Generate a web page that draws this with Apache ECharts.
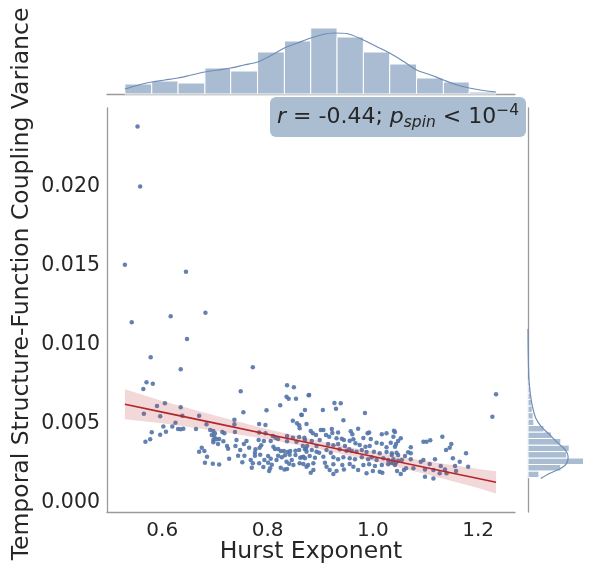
<!DOCTYPE html>
<html><head><meta charset="utf-8">
<script src="https://cdn.jsdelivr.net/npm/echarts@6/dist/echarts.min.js"></script>
<style>html,body{margin:0;padding:0;background:#fff}#c{width:597px;height:569px}</style>
</head><body><div id="c"></div>
<script>
// ---------- data ----------
const xTicks = [0.6, 0.8, 1.0, 1.2];
const yTicks = [0, 0.005, 0.010, 0.015, 0.020];

// scatter: [Hurst exponent, coupling variance]
const points = [
[0.553,0.02383],[0.558,0.02002],[0.529,0.01506],[0.645,0.01463],[0.542,0.01142],[0.616,0.01181],
[0.682,0.01203],[0.647,0.01037],[0.578,0.00921],[0.635,0.00845],[0.772,0.00857],[0.564,0.0072],
[0.570,0.00762],[0.582,0.00753],[1.234,0.00686],[1.227,0.00544],
[0.590,0.00612],[0.605,0.00629],[0.635,0.00604],[0.565,0.00563],[0.596,0.00547],[0.638,0.0055],
[0.670,0.0055],[0.625,0.00506],[0.619,0.00481],[0.602,0.00481],[0.630,0.00466],[0.635,0.00464],
[0.640,0.00468],[0.684,0.00496],[0.664,0.00466],[0.580,0.00445],[0.607,0.00449],[0.596,0.0043],
[0.577,0.00401],[0.568,0.00385],[0.691,0.0046],[0.697,0.00453],[0.700,0.00439],[0.694,0.00428],
[0.699,0.00417],[0.697,0.00396],[0.703,0.00401],[0.706,0.00371],[0.697,0.00382],[0.675,0.00347],
[0.680,0.00327],[0.670,0.00322],[0.685,0.0029],[0.681,0.00252],[0.696,0.00246],[0.708,0.00241],
[0.749,0.00705],[0.837,0.00743],[0.850,0.0073],[0.836,0.00671],[0.840,0.00658],[0.854,0.00658],
[0.878,0.0068],[0.824,0.00616],[0.864,0.00557],[0.754,0.00572],[0.798,0.00585],[0.848,0.00519],
[0.856,0.00502],[0.860,0.00489],[0.874,0.00498],[0.737,0.00525],[0.737,0.00496],[0.784,0.00498],
[0.796,0.00491],[0.861,0.0047],[0.738,0.00447],[0.714,0.00447],[0.718,0.00439],[0.784,0.00443],
[0.796,0.00439],[0.810,0.00422],[0.815,0.00411],[0.820,0.00403],[0.837,0.00422],[0.848,0.00411],
[0.860,0.00415],[0.870,0.00411],[0.708,0.00403],[0.716,0.00388],[0.741,0.00396],[0.760,0.0039],
[0.783,0.00396],[0.793,0.0039],[0.806,0.0039],[0.837,0.00388],[0.855,0.00385],[0.723,0.00358],
[0.725,0.00341],[0.739,0.00358],[0.755,0.00371],[0.765,0.00347],[0.777,0.00337],[0.785,0.00347],
[0.788,0.00363],[0.811,0.00354],[0.814,0.00339],[0.820,0.00339],[0.825,0.00327],[0.831,0.00327],
[0.838,0.0032],[0.843,0.00327],[0.853,0.00328],[0.860,0.00333],[0.873,0.00341],[0.776,0.00316],
[0.748,0.00333],[0.744,0.00297],[0.756,0.00297],[0.776,0.00297],[0.786,0.00303],[0.801,0.00295],
[0.820,0.00297],[0.827,0.00287],[0.833,0.00299],[0.842,0.00303],[0.853,0.00301],[0.868,0.0029],
[0.727,0.00278],[0.768,0.00269],[0.794,0.00269],[0.806,0.00278],[0.817,0.00269],[0.836,0.00259],
[0.846,0.00269],[0.862,0.00284],[0.752,0.00255],[0.772,0.00249],[0.784,0.00249],[0.801,0.00252],
[0.808,0.0024],[0.841,0.00246],[0.849,0.00238],[0.861,0.00249],[0.770,0.00221],[0.792,0.00225],
[0.805,0.00217],[0.825,0.00221],[0.832,0.0021],[0.837,0.00212],[0.874,0.00227],[0.803,0.002],
[0.879,0.00682],[0.927,0.00631],[0.939,0.00629],[0.871,0.00586],[0.905,0.00586],[0.930,0.00595],
[0.865,0.00555],[0.985,0.00567],[0.944,0.00521],[0.972,0.00468],[0.882,0.00453],[0.886,0.00439],
[0.901,0.0046],[0.906,0.0046],[0.922,0.00466],[0.923,0.00441],[0.934,0.00443],[0.958,0.00451],
[0.961,0.00432],[0.990,0.00439],[0.993,0.00443],[1.017,0.00432],[1.026,0.00439],[1.042,0.00447],
[0.892,0.00428],[0.911,0.00428],[0.917,0.00417],[0.931,0.00407],[0.941,0.00404],[0.945,0.00396],
[0.982,0.00409],[0.996,0.00403],[0.871,0.00396],[0.884,0.0039],[0.899,0.00396],[0.956,0.00392],
[0.963,0.00401],[0.967,0.00375],[1.007,0.00379],[1.017,0.00373],[1.034,0.00379],[1.048,0.0039],
[0.867,0.00358],[0.875,0.00358],[0.893,0.00358],[0.915,0.00371],[0.925,0.00363],[0.934,0.00371],
[0.947,0.00358],[0.975,0.00365],[0.986,0.00354],[0.994,0.00358],[1.026,0.0035],[1.042,0.00354],
[0.871,0.00337],[0.874,0.00322],[0.884,0.00333],[0.893,0.00322],[0.898,0.00316],[0.912,0.00333],
[0.920,0.00316],[0.937,0.00337],[0.950,0.00328],[0.955,0.00337],[0.960,0.00327],[0.969,0.00322],
[0.979,0.00333],[0.988,0.0032],[1.002,0.00322],[1.013,0.00312],[1.026,0.0032],[1.036,0.00312],
[1.045,0.00316],[0.865,0.00287],[0.871,0.0028],[0.880,0.00295],[0.890,0.00284],[0.906,0.0029],
[0.925,0.00287],[0.934,0.00274],[0.944,0.00287],[0.956,0.0028],[0.966,0.00274],[0.979,0.00287],
[0.991,0.00274],[0.998,0.00287],[1.007,0.00269],[1.020,0.0028],[1.029,0.00269],[1.039,0.00274],
[1.048,0.00265],[0.868,0.00244],[0.877,0.00238],[0.887,0.00249],[0.909,0.00252],[0.912,0.00227],
[0.925,0.00242],[0.942,0.00238],[0.956,0.00244],[0.963,0.00227],[0.982,0.00238],[0.993,0.00242],
[1.004,0.00231],[1.017,0.00238],[1.029,0.00242],[1.042,0.00238],[0.887,0.00206],[0.882,0.00189],
[0.918,0.00206],[0.931,0.002],[0.945,0.0021],[0.972,0.00206],[1.000,0.002],[1.013,0.00195],
[1.018,0.00189],[0.925,0.00181],[0.988,0.00185],
[1.040,0.00455],[1.039,0.00417],[1.044,0.00371],[1.053,0.00407],[1.096,0.00385],[1.102,0.00385],
[1.109,0.00394],[1.132,0.00417],[1.072,0.0035],[1.067,0.00318],[1.072,0.00312],[1.149,0.00371],
[1.146,0.00347],[1.139,0.00333],[1.177,0.00312],[1.036,0.00301],[1.048,0.00301],[1.061,0.00295],
[1.152,0.0028],[1.118,0.00274],[1.096,0.00269],[1.165,0.00259],[1.072,0.00274],[1.055,0.00269],
[1.034,0.00252],[1.039,0.00249],[1.044,0.00252],[1.091,0.00259],[1.108,0.00244],[1.129,0.00231],
[1.156,0.00231],[1.181,0.00227],[1.063,0.00217],[1.059,0.00206],[1.077,0.00217],[1.099,0.0021],
[1.115,0.00206],[1.137,0.0021],[1.158,0.002],[1.046,0.002],[1.053,0.00181],[1.099,0.00164],
[1.115,0.00153],[1.127,0.00185],[1.140,0.00185]
];

// regression line and confidence band
const regX   = [0.529, 0.6, 0.7, 0.8, 0.9, 1.0, 1.1, 1.2, 1.234];
const regY   = [0.00623, 0.00573, 0.00503, 0.00433, 0.00363, 0.00292, 0.00222, 0.00152, 0.00128];
const ciHigh = [0.00718, 0.00643, 0.00551, 0.00465, 0.00388, 0.00321, 0.00263, 0.00212, 0.00198];
const ciLow  = [0.00528, 0.00503, 0.00455, 0.00401, 0.00338, 0.00263, 0.00181, 0.00092, 0.00058];

// top marginal histogram (Hurst exponent)
const topBinEdges = [0.529, 0.580, 0.630, 0.681, 0.730, 0.781, 0.832, 0.882, 0.932, 0.982, 1.032, 1.083, 1.134, 1.183, 1.234];
const topCounts   = [10, 13, 11, 26, 23, 42, 53, 66, 57, 42, 30, 16, 12, 2];
const topKdeX = [0.529,0.555,0.580,0.605,0.630,0.655,0.681,0.705,0.730,0.755,0.781,0.805,0.832,0.857,0.882,0.905,0.925,0.950,0.982,1.005,1.032,1.060,1.083,1.110,1.134,1.160,1.183,1.210,1.234];
const topKdeY = [5,9,12,14,16,19,22,24,26,29,32,38,46,51,56,59.5,61,60.5,54,48,41,32,24,19,14,9,6,3.5,2];

// right marginal histogram (coupling variance)
const rightBinEdges = [0.00158,0.00200,0.00241,0.00282,0.00323,0.00364,0.00406,0.00447,0.00488,0.00529,0.00570,0.00612,0.00653,0.00694,0.00735,0.00776];
const rightCounts   = [13, 39, 66, 46, 49, 39, 28, 19, 7, 6, 5, 4, 3, 2.5, 2];
const rightKdeY = [0.00153,0.00185,0.00217,0.00248,0.0029,0.00333,0.00375,0.00428,0.0048,0.00534,0.00607,0.00692,0.00776,0.0086,0.0098,0.0110];
const rightKdeX = [15.3,26,39.3,46,47.7,44.3,36,26,16,9.3,5.3,2.7,1.2,0.6,0.2,0];

// ---------- chart ----------
const FONT = 'DejaVu Sans';
const TXT = '#262626';
const SPINE = '#9a9a9a';
const BAR = '#aabcd1';
const KDE = '#6f8db5';
const XMIN = 0.495, XMAX = 1.27, YMIN = -0.0006, YMAX = 0.025;

const chart = echarts.init(document.getElementById('c'), null, {renderer: 'canvas'});

const option = {
  animation: false,
  backgroundColor: '#fff',
  grid: [
    {left: 107, top: 108, width: 408, height: 404},
    {left: 107, top: 12, width: 408, height: 82},
    {left: 528, top: 108, width: 82, height: 404}
  ],
  xAxis: [
    {gridIndex: 0, type: 'value', min: XMIN, max: XMAX,
     axisLine: {show: true, onZero: false, lineStyle: {color: SPINE, width: 1.3}},
     axisTick: {show: false}, splitLine: {show: false},
     axisLabel: {customValues: xTicks, formatter: v => v.toFixed(1), color: TXT, fontSize: 20, fontFamily: FONT, margin: 9}},
    {gridIndex: 1, type: 'value', min: XMIN, max: XMAX,
     axisLine: {show: true, onZero: false, lineStyle: {color: SPINE, width: 1.3}},
     axisTick: {show: false}, splitLine: {show: false}, axisLabel: {show: false}},
    {gridIndex: 2, type: 'value', min: 0, max: 82, show: false}
  ],
  yAxis: [
    {gridIndex: 0, type: 'value', min: YMIN, max: YMAX,
     axisLine: {show: true, onZero: false, lineStyle: {color: SPINE, width: 1.3}},
     axisTick: {show: false}, splitLine: {show: false},
     axisLabel: {customValues: yTicks, formatter: v => v.toFixed(3), color: TXT, fontSize: 20.5, fontFamily: FONT, margin: 7}},
    {gridIndex: 1, type: 'value', min: 0, max: 82, show: false},
    {gridIndex: 2, type: 'value', min: YMIN, max: YMAX,
     axisLine: {show: true, onZero: false, lineStyle: {color: SPINE, width: 1.3}},
     axisTick: {show: false}, splitLine: {show: false}, axisLabel: {show: false}}
  ],
  series: [
    {type: 'scatter', xAxisIndex: 0, yAxisIndex: 0, data: points, symbolSize: 4.5,
     itemStyle: {color: '#5274a8', opacity: 0.9}, z: 2},
    {type: 'custom', xAxisIndex: 0, yAxisIndex: 0, data: [[regX[0], ciLow[0]]], z: 3,
     renderItem: (params, api) => {
       const pts = [];
       for (let i = 0; i < regX.length; i++) pts.push(api.coord([regX[i], ciHigh[i]]));
       for (let i = regX.length - 1; i >= 0; i--) pts.push(api.coord([regX[i], ciLow[i]]));
       return {type: 'polygon', shape: {points: pts}, style: {fill: 'rgba(190,60,60,0.2)', stroke: null}};
     }},
    {type: 'line', xAxisIndex: 0, yAxisIndex: 0, data: regX.map((x, i) => [x, regY[i]]),
     showSymbol: false, lineStyle: {color: '#b3262b', width: 1.6}, z: 4},
    {type: 'custom', xAxisIndex: 1, yAxisIndex: 1,
     data: topCounts.map((c, i) => [topBinEdges[i], topBinEdges[i + 1], c]),
     encode: {x: [0, 1], y: 2},
     renderItem: (params, api) => {
       const p0 = api.coord([api.value(0), api.value(2)]);
       const p1 = api.coord([api.value(1), 0]);
       return {type: 'rect', shape: {x: p0[0], y: p0[1], width: p1[0] - p0[0], height: p1[1] - p0[1]},
               style: {fill: BAR, stroke: '#ffffff', lineWidth: 1}};
     }},
    {type: 'line', xAxisIndex: 1, yAxisIndex: 1, data: topKdeX.map((x, i) => [x, topKdeY[i]]),
     showSymbol: false, smooth: 0.3, lineStyle: {color: KDE, width: 1.2}, z: 5},
    {type: 'custom', xAxisIndex: 2, yAxisIndex: 2,
     data: rightCounts.map((c, i) => [rightBinEdges[i], rightBinEdges[i + 1], c]),
     encode: {y: [0, 1], x: 2},
     renderItem: (params, api) => {
       const p0 = api.coord([0, api.value(1)]);
       const p1 = api.coord([api.value(2), api.value(0)]);
       return {type: 'rect', shape: {x: p0[0], y: p0[1], width: p1[0] - p0[0], height: p1[1] - p0[1]},
               style: {fill: BAR, stroke: '#ffffff', lineWidth: 1}};
     }},
    {type: 'line', xAxisIndex: 2, yAxisIndex: 2, data: rightKdeY.map((y, i) => [rightKdeX[i], y]),
     showSymbol: false, smooth: 0.3, lineStyle: {color: KDE, width: 1.2}, z: 5}
  ],
  graphic: [
    {type: 'text', x: 22, y: 284, rotation: Math.PI / 2,
     style: {text: 'Temporal Structure-Function Coupling Variance', fill: TXT, fontSize: 23.5, fontFamily: FONT,
             textAlign: 'center', textVerticalAlign: 'middle'}},
    {type: 'text', x: 311, y: 552,
     style: {text: 'Hurst Exponent', fill: TXT, fontSize: 23.5, fontFamily: FONT,
             textAlign: 'center', textVerticalAlign: 'middle'}},
    {type: 'rect', shape: {x: 270, y: 97, width: 256, height: 40, r: 6},
     style: {fill: '#abbdd0'}, z: 10},
    {type: 'text', x: 277, y: 117, z: 11,
     style: {
       text: '{i|r}{n| = -0.44; }{i|p}{sub|spin}{n| < 10}{sup|\u22124}',
       textAlign: 'left', textVerticalAlign: 'middle',
       rich: {
         n: {fontSize: 22, fontFamily: FONT, fill: TXT, lineHeight: 28, verticalAlign: 'middle'},
         i: {fontSize: 22, fontFamily: FONT, fontStyle: 'italic', fill: TXT, lineHeight: 28, verticalAlign: 'middle'},
         sub: {fontSize: 15.5, fontFamily: FONT, fontStyle: 'italic', fill: TXT, lineHeight: 14, verticalAlign: 'bottom'},
         sup: {fontSize: 15.5, fontFamily: FONT, fill: TXT, lineHeight: 14, verticalAlign: 'top'}
       }
     }}
  ]
};
chart.setOption(option);
</script>
</body></html>
